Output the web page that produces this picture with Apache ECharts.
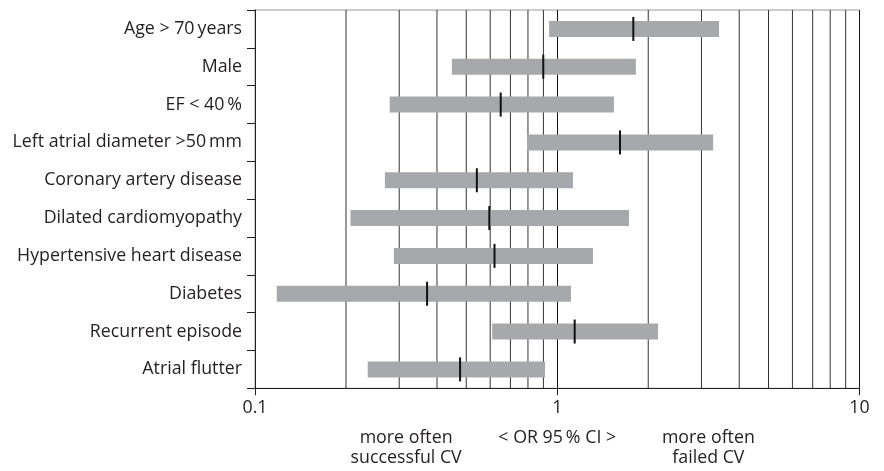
<!DOCTYPE html>
<html>
<head>
<meta charset="utf-8">
<script src="https://cdn.jsdelivr.net/npm/echarts@6/dist/echarts.min.js"></script>
<style>html,body{margin:0;padding:0;background:#fff}#c{width:884px;height:471px}</style>
</head>
<body>
<div id="c"></div>
<script>
var categories = ["Age > 70\u2009years", "Male", "EF < 40\u2009%", "Left atrial diameter >50\u2009mm", "Coronary artery disease", "Dilated cardiomyopathy", "Hypertensive heart disease", "Diabetes", "Recurrent episode", "Atrial flutter"];
var ciLow  = [0.94, 0.448, 0.279, 0.794, 0.269, 0.207, 0.288, 0.118, 0.609, 0.236];
var ciHigh = [3.43, 1.82, 1.54, 3.28, 1.127, 1.727, 1.313, 1.110, 2.155, 0.911];
var oddsRatio = [1.785, 0.899, 0.650, 1.613, 0.542, 0.596, 0.620, 0.371, 1.142, 0.477];
var minorGrid = [0.2, 0.3, 0.4, 0.5, 0.6, 0.7, 0.8, 0.9, 2, 3, 4, 5, 6, 7, 8, 9];
var xTicks = [0.1, 1, 10];

var FONT = 'Open Sans';
var FS = 17.8;
var TXT = '#231f20';

var chart = echarts.init(document.getElementById('c'), null, {renderer: 'canvas'});

var barData = categories.map(function (c, i) { return [i, ciLow[i], ciHigh[i], oddsRatio[i]]; });

chart.setOption({
  animation: false,
  grid: {left: 255, right: 24.5, top: 10, bottom: 82.7, show: true, borderColor: '#9a9a9a', borderWidth: 1, backgroundColor: 'transparent'},
  xAxis: {
    type: 'log', logBase: 10, min: 0.1, max: 10,
    axisLine: {show: true, onZero: false, lineStyle: {color: TXT, width: 1}},
    axisTick: {show: true, length: 7, inside: false, lineStyle: {color: TXT}},
    axisLabel: {fontFamily: FONT, fontSize: FS, color: TXT, margin: 11,
      formatter: function (v) { return xTicks.indexOf(+v) >= 0 ? String(v) : ''; }},
    splitLine: {show: true, lineStyle: {color: '#111', width: 1}},
    minorTick: {show: false}, minorSplitLine: {show: false}
  },
  yAxis: {
    type: 'category', data: categories, inverse: true,
    axisLine: {show: true, lineStyle: {color: TXT, width: 1}},
    axisTick: {show: true, length: 8, lineStyle: {color: TXT}},
    axisLabel: {fontFamily: FONT, fontSize: FS, color: TXT, margin: 13},
    splitLine: {show: false}
  },
  series: [
    {
      type: 'custom', z: 1,
      data: minorGrid.map(function (v) { return [v]; }),
      encode: {x: 0},
      renderItem: function (params, api) {
        var cs = params.coordSys;
        var x = api.coord([api.value(0), 0])[0];
        return {type: 'line', shape: {x1: x, y1: cs.y, x2: x, y2: cs.y + cs.height},
          style: {stroke: '#333', lineWidth: 1}};
      }
    },
    {
      type: 'custom', z: 3,
      data: barData,
      encode: {y: 0, x: [1, 2, 3]},
      renderItem: function (params, api) {
        var i = api.value(0);
        var p1 = api.coord([api.value(1), i]);
        var p2 = api.coord([api.value(2), i]);
        var po = api.coord([api.value(3), i]);
        var bh = 16, mh = 24;
        return {type: 'group', children: [
          {type: 'rect', shape: {x: p1[0], y: p1[1] - bh / 2, width: p2[0] - p1[0], height: bh},
            style: {fill: '#a7a8ab'}},
          {type: 'line', shape: {x1: po[0], y1: po[1] - mh / 2, x2: po[0], y2: po[1] + mh / 2},
            style: {stroke: '#111', lineWidth: 2}}
        ]};
      }
    }
  ]
});

var yLine1 = 438, yLine2 = 458;
var xLeft = chart.convertToPixel({xAxisIndex: 0}, Math.sqrt(0.1));
var xMid = chart.convertToPixel({xAxisIndex: 0}, 1);
var xRight = chart.convertToPixel({xAxisIndex: 0}, Math.sqrt(10));
function t(x, y, s) {
  return {type: 'text', x: x, y: y, style: {text: s, fontFamily: FONT, fontSize: FS, fill: TXT, align: 'center', verticalAlign: 'middle'}};
}
chart.setOption({graphic: [
  t(xLeft, yLine1, 'more often'), t(xLeft, yLine2, 'successful CV'),
  t(xMid, yLine1, '< OR 95\u2009% CI >'),
  t(xRight, yLine1, 'more often'), t(xRight, yLine2, 'failed CV')
]});
</script>
</body>
</html>
